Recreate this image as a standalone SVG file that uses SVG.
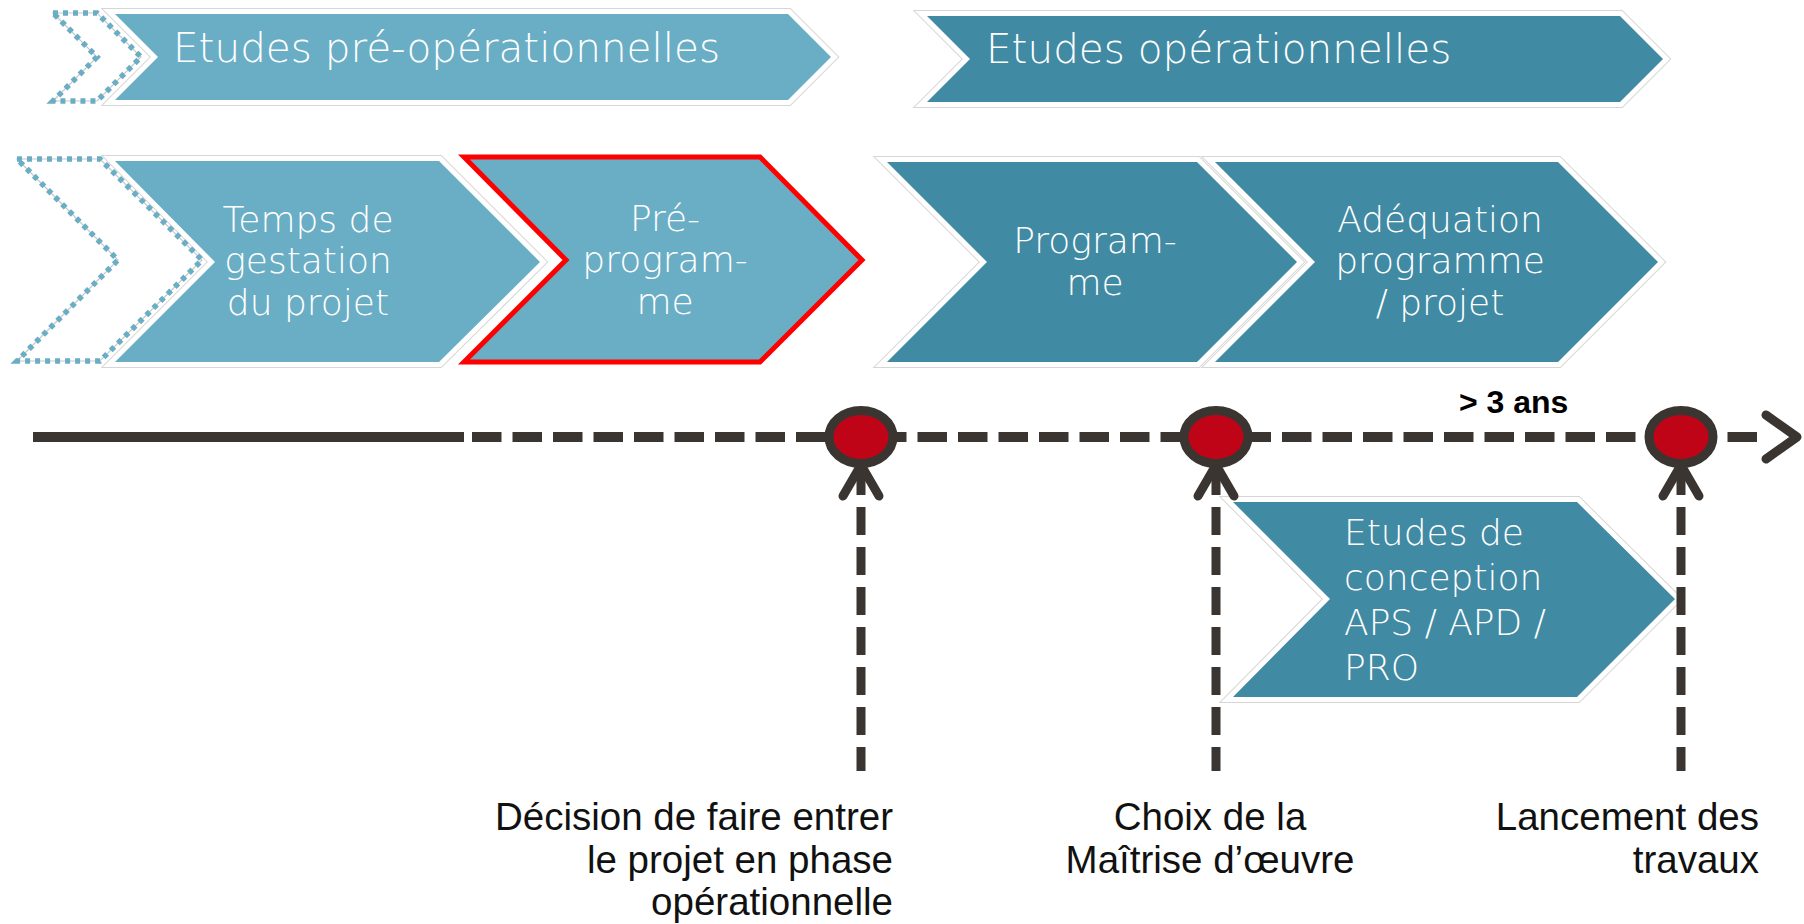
<svg xmlns="http://www.w3.org/2000/svg" width="1804" height="924" viewBox="0 0 1804 924">
<style>
.frame{fill:none;stroke:#d6d6d6;stroke-width:12;stroke-miterlimit:10}
.lt{fill:#6AAEC5;stroke:#fff;stroke-width:10;paint-order:stroke;stroke-miterlimit:10}
.dk{fill:#418AA3;stroke:#fff;stroke-width:10;paint-order:stroke;stroke-miterlimit:10}
.sel{fill:#6AAEC5;stroke:#FF0000;stroke-width:5;stroke-miterlimit:10}
.dotline{fill:none;stroke:#c8c8c8;stroke-width:1.2}
.dots{fill:none;stroke:#6AAEC5;stroke-width:5.5;stroke-dasharray:5 5}
.ph{font-family:"DejaVu Sans",sans-serif;fill:#fff;font-weight:300}
.big{font-size:40.5px}
.mid{font-size:36px}
.c{text-anchor:middle}
.lbl{font-family:"Liberation Sans",Arial,sans-serif;font-size:38.5px;fill:#111}
.tl{stroke:#3A3531;stroke-width:10;fill:none}
.vd{stroke:#3A3531;stroke-width:9;fill:none;stroke-dasharray:28 12}
.ah{stroke:#3A3531;stroke-width:9;fill:none;stroke-linecap:round;stroke-linejoin:round}
.ms{fill:#C00418;stroke:#3A3531;stroke-width:9}
</style>

<!-- Row 1 -->
<g id="prev-phase-top">
  <polygon class="dotline" points="53,13 97,13 141,57 97,101 53,101 97,57"/>
  <polygon class="dots" points="53,13 97,13 141,57 97,101 53,101 97,57"/>
</g>
<g id="etudes-pre-operationnelles">
  <polygon class="frame" points="115,14 788,14 831,57 788,100 115,100 158,57"/>
  <polygon class="lt" points="115,14 788,14 831,57 788,100 115,100 158,57"/>
  <text class="ph big" x="173" y="62">Etudes pré-opérationnelles</text>
</g>
<g id="etudes-operationnelles">
  <polygon class="frame" points="927,16 1620,16 1663,59 1620,102 927,102 970,59"/>
  <polygon class="dk" points="927,16 1620,16 1663,59 1620,102 927,102 970,59"/>
  <text class="ph big" x="986" y="63">Etudes opérationnelles</text>
</g>

<!-- Row 2 -->
<g id="temps-gestation">
  <polygon class="frame" points="115,161 439,161 540,262 439,362 115,362 215,262"/>
  <polygon class="lt" points="115,161 439,161 540,262 439,362 115,362 215,262"/>
  <text class="ph mid c" x="308" y="232">Temps de</text>
  <text class="ph mid c" x="308" y="273">gestation</text>
  <text class="ph mid c" x="308" y="315">du projet</text>
</g>
<g id="prev-phase-row2">
  <polygon class="dotline" points="17,159 100,159 202,260 100,361 17,361 118,260"/>
  <polygon class="dots" points="17,159 100,159 202,260 100,361 17,361 118,260"/>
</g>
<g id="pre-programme">
  <polygon class="sel" points="464,157 760,157 862,260 760,362 464,362 566,260"/>
  <text class="ph mid c" x="665" y="231">Pré-</text>
  <text class="ph mid c" x="665" y="272">program-</text>
  <text class="ph mid c" x="665" y="314">me</text>
</g>
<g id="programme">
  <polygon class="frame" points="887,162 1197,162 1297,262 1197,362 887,362 987,262"/>
  <polygon class="dk" points="887,162 1197,162 1297,262 1197,362 887,362 987,262"/>
  <text class="ph mid c" x="1095" y="253">Program-</text>
  <text class="ph mid c" x="1095" y="295">me</text>
</g>
<g id="adequation">
  <polygon class="frame" points="1215,162 1558,162 1658,262 1558,362 1215,362 1315,262"/>
  <polygon class="dk" points="1215,162 1558,162 1658,262 1558,362 1215,362 1315,262"/>
  <text class="ph mid c" x="1440" y="232">Adéquation</text>
  <text class="ph mid c" x="1440" y="273">programme</text>
  <text class="ph mid c" x="1440" y="315">/ projet</text>
</g>

<!-- Row 3 -->
<g id="etudes-conception">
  <polygon class="frame" points="1233,502 1577,502 1675,599 1577,697 1233,697 1330,599"/>
  <polygon class="dk" points="1233,502 1577,502 1675,599 1577,697 1233,697 1330,599"/>
  <text class="ph mid" x="1344" y="545">Etudes de</text>
  <text class="ph mid" x="1344" y="590">conception</text>
  <text class="ph mid" x="1344" y="635">APS / APD /</text>
  <text class="ph mid" x="1344" y="680">PRO</text>
</g>

<!-- Connectors -->
<g id="connectors">
  <path class="tl" d="M33 437 H464"/>
  <path class="tl" d="M472 437 H1757" stroke-dasharray="29.5 11"/>
  <path class="ah" d="M1766 415 L1797 437 L1766 459"/>
  <path class="vd" d="M861 467 V771"/>
  <path class="vd" d="M1216 467 V771"/>
  <path class="vd" d="M1681 467 V771"/>
</g>

<!-- Milestones -->
<g id="milestone-decision">
  <ellipse class="ms" cx="861" cy="437" rx="32" ry="26.5"/>
  <path class="ah" d="M843 496 L861 465 L879 496"/>
</g>
<g id="milestone-moe">
  <ellipse class="ms" cx="1216" cy="437" rx="32" ry="26.5"/>
  <path class="ah" d="M1198 496 L1216 465 L1234 496"/>
</g>
<g id="milestone-travaux">
  <ellipse class="ms" cx="1681" cy="437" rx="32" ry="26.5"/>
  <path class="ah" d="M1663 496 L1681 465 L1699 496"/>
</g>

<g id="duration-label">
  <text x="1459" y="413" font-family="Liberation Sans, Arial, sans-serif" font-weight="bold" font-size="32" fill="#000">&gt; 3 ans</text>
</g>

<!-- Labels -->
<g id="label-decision" class="lbl" text-anchor="end">
  <text x="893" y="830">Décision de faire entrer</text>
  <text x="893" y="873">le projet en phase</text>
  <text x="893" y="915">opérationnelle</text>
</g>
<g id="label-moe" class="lbl" text-anchor="middle">
  <text x="1210" y="830">Choix de la</text>
  <text x="1210" y="873">Maîtrise d’œuvre</text>
</g>
<g id="label-travaux" class="lbl" text-anchor="end">
  <text x="1759" y="830">Lancement des</text>
  <text x="1759" y="873">travaux</text>
</g>
</svg>
